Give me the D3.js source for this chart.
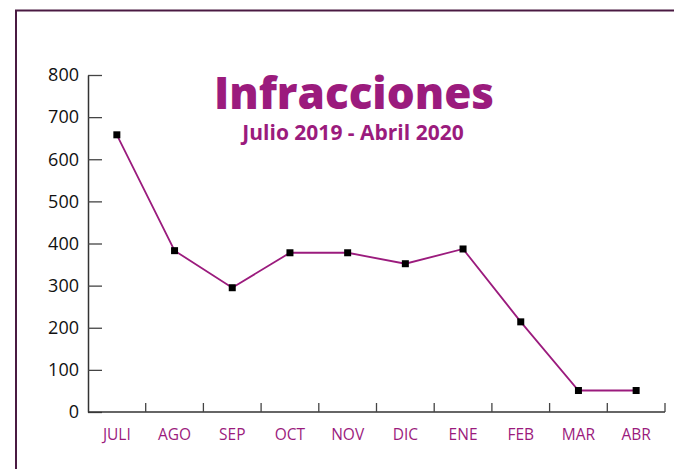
<!DOCTYPE html>
<html>
<head>
<meta charset="utf-8">
<script src="https://cdn.jsdelivr.net/npm/d3@7"></script>
<style>
  body { margin: 0; background: #fff; }
  svg { display: block; }
</style>
</head>
<body>
<script>
// data
var months = ["JULI", "AGO", "SEP", "OCT", "NOV", "DIC", "ENE", "FEB", "MAR", "ABR"];
var infracciones = [658, 383, 295, 378, 378, 352, 387, 214, 51, 51];
var yTicks = [0, 100, 200, 300, 400, 500, 600, 700, 800];

var W = 674, H = 469;
var margin = {top: 75, left: 88, bottom: 57, right: 9};
var width = W - margin.left - margin.right;
var height = H - margin.top - margin.bottom;

var purple = "#9b1b7d";

var svg = d3.select("body").append("svg")
  .attr("width", W)
  .attr("height", H);

// frame (top and left edges only, like the cropped slide)
svg.append("path")
  .attr("d", "M16," + H + " V10.5 H" + W)
  .attr("fill", "none")
  .attr("stroke", "#4a1a42")
  .attr("stroke-width", 2);

var g = svg.append("g")
  .attr("transform", "translate(" + margin.left + "," + margin.top + ")");

var x = d3.scaleBand()
  .domain(months)
  .range([0, width]);

var y = d3.scaleLinear()
  .domain([0, 800])
  .range([height, 0]);

// y axis, ticks pointing inward
var yAxis = g.append("g")
  .call(d3.axisRight(y).tickValues(yTicks).tickSize(14).tickSizeOuter(0));
yAxis.select(".domain").attr("stroke", "#333").attr("stroke-width", 1.5);
yAxis.selectAll(".tick line").attr("stroke", "#444").attr("stroke-width", 1.3);
yAxis.selectAll(".tick text")
  .attr("x", -9)
  .attr("text-anchor", "end")
  .attr("fill", "#111")
  .style("font-family", "'Open Sans', sans-serif")
  .style("font-size", "18px");

// x axis: line plus small inward ticks at band edges
var xg = g.append("g").attr("transform", "translate(0," + height + ")");
xg.append("line")
  .attr("x1", 0).attr("x2", width)
  .attr("stroke", "#333").attr("stroke-width", 1.5);
xg.selectAll(".xt")
  .data(months)
  .enter().append("line")
  .attr("class", "xt")
  .attr("x1", function(d) { return x(d) + x.bandwidth(); })
  .attr("x2", function(d) { return x(d) + x.bandwidth(); })
  .attr("y1", 0).attr("y2", -9)
  .attr("stroke", "#444").attr("stroke-width", 1.3);
xg.selectAll(".xl")
  .data(months)
  .enter().append("text")
  .attr("class", "xl")
  .attr("x", function(d) { return x(d) + x.bandwidth() / 2; })
  .attr("y", 28)
  .attr("text-anchor", "middle")
  .attr("fill", purple)
  .style("font-family", "'Open Sans', sans-serif")
  .style("font-size", "15.5px")
  .text(function(d) { return d; });

// line
var line = d3.line()
  .x(function(d, i) { return x(months[i]) + x.bandwidth() / 2; })
  .y(function(d) { return y(d); });

g.append("path")
  .datum(infracciones)
  .attr("d", line)
  .attr("fill", "none")
  .attr("stroke", purple)
  .attr("stroke-width", 1.8);

// square markers
g.selectAll(".pt")
  .data(infracciones)
  .enter().append("rect")
  .attr("class", "pt")
  .attr("x", function(d, i) { return x(months[i]) + x.bandwidth() / 2 - 3.5; })
  .attr("y", function(d) { return y(d) - 3.5; })
  .attr("width", 7)
  .attr("height", 7)
  .attr("fill", "#000");

// titles
svg.append("text")
  .attr("x", 354).attr("y", 109)
  .attr("text-anchor", "middle")
  .attr("fill", purple)
  .style("font-family", "'Open Sans', sans-serif")
  .style("font-weight", "800")
  .style("font-size", "44px")
  .text("Infracciones");

svg.append("text")
  .attr("x", 353).attr("y", 140)
  .attr("text-anchor", "middle")
  .attr("fill", purple)
  .style("font-family", "'Open Sans', sans-serif")
  .style("font-weight", "bold")
  .style("font-size", "21px")
  .text("Julio 2019 - Abril 2020");
</script>
</body>
</html>
